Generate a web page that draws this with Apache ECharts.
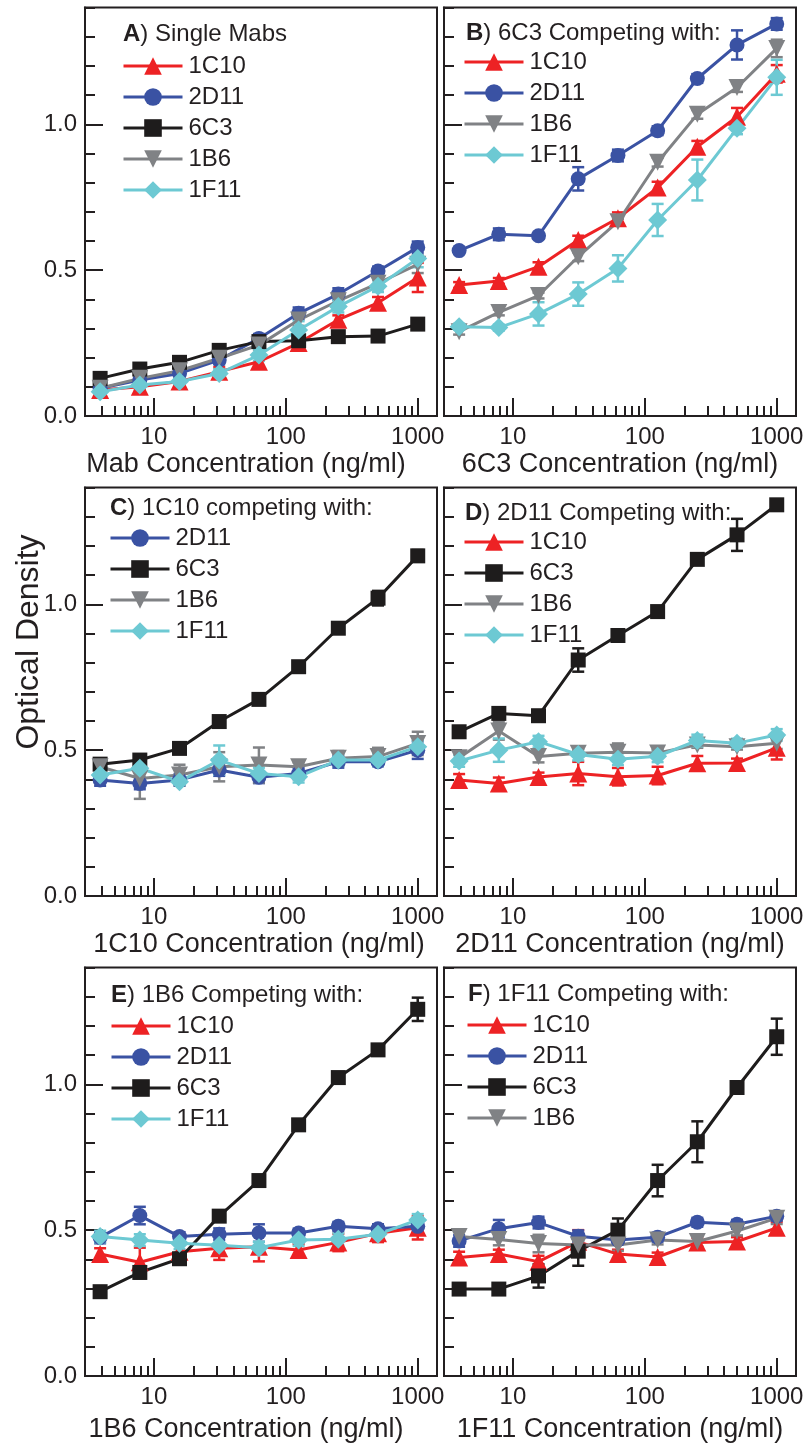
<!DOCTYPE html>
<html>
<head>
<meta charset="utf-8">
<script src="https://cdn.jsdelivr.net/npm/echarts@6.0.0/dist/echarts.min.js"></script>
<style>
  html, body { margin: 0; padding: 0; background: #ffffff; }
  #chart { width: 807px; height: 1446px; }
</style>
</head>
<body>
<div id="chart"></div>
<script>
// ---------------- DATA ----------------
const conc = [3.90625, 7.8125, 15.625, 31.25, 62.5, 125, 250, 500, 1000];
const xMajorTicks = [10, 100, 1000];
const xMinorTicks = [4, 5, 6, 7, 8, 9, 20, 30, 40, 50, 60, 70, 80, 90, 200, 300, 400, 500, 600, 700, 800, 900];
const yLabelValues = [0, 0.5, 1.0];
const yMajorTicks = [0.5, 1.0];

const panelTitles = ['A) Single Mabs', 'B) 6C3 Competing with:', 'C) 1C10 competing with:',
                     'D) 2D11 Competing with:', 'E) 1B6 Competing with:', 'F) 1F11 Competing with:'];
const xAxisNames = ['Mab Concentration (ng/ml)', '6C3 Concentration (ng/ml)', '1C10 Concentration (ng/ml)',
                    '2D11 Concentration (ng/ml)', '1B6 Concentration (ng/ml)', '1F11 Concentration (ng/ml)'];
const yAxisName = 'Optical Density';

// Panel A: single Mabs
const A_1C10 = [0.089, 0.100, 0.118, 0.152, 0.186, 0.250, 0.330, 0.388, 0.475];
const A_2D11 = [0.095, 0.123, 0.146, 0.192, 0.266, 0.352, 0.418, 0.497, 0.578];
const A_6C3  = [0.129, 0.161, 0.184, 0.225, 0.255, 0.258, 0.272, 0.274, 0.315];
const A_1B6  = [0.095, 0.129, 0.155, 0.198, 0.243, 0.329, 0.395, 0.455, 0.520];
const A_1F11 = [0.083, 0.106, 0.118, 0.146, 0.209, 0.295, 0.375, 0.445, 0.540];
const A_1C10_err = [0.010, 0.010, 0.010, 0.015, 0.015, 0.020, 0.015, 0.020, 0.050];
const A_2D11_err = [0.010, 0.010, 0.010, 0.015, 0.015, 0.020, 0.020, 0.015, 0.020];
const A_6C3_err  = [0.005, 0.005, 0.005, 0.005, 0.005, 0.005, 0.005, 0.005, 0.005];
const A_1B6_err  = [0.010, 0.010, 0.010, 0.015, 0.015, 0.020, 0.015, 0.020, 0.030];
const A_1F11_err = [0.010, 0.010, 0.010, 0.015, 0.020, 0.030, 0.020, 0.020, 0.030];

// Panel B: 6C3 competing with
const B_1C10 = [0.449, 0.463, 0.512, 0.603, 0.678, 0.783, 0.923, 1.026, 1.173];
const B_2D11 = [0.567, 0.623, 0.618, 0.813, 0.893, 0.978, 1.157, 1.272, 1.344];
const B_1B6  = [0.289, 0.355, 0.413, 0.546, 0.666, 0.870, 1.034, 1.126, 1.260];
const B_1F11 = [0.306, 0.303, 0.350, 0.418, 0.506, 0.672, 0.809, 0.986, 1.161];
const B_1C10_err = [0.010, 0.010, 0.015, 0.015, 0.020, 0.020, 0.020, 0.030, 0.030];
const B_2D11_err = [0.010, 0.020, 0.010, 0.040, 0.020, 0.015, 0.015, 0.050, 0.020];
const B_1B6_err  = [0.010, 0.010, 0.010, 0.015, 0.010, 0.015, 0.015, 0.015, 0.030];
const B_1F11_err = [0.010, 0.010, 0.040, 0.040, 0.045, 0.055, 0.070, 0.020, 0.060];

// Panel C: 1C10 competing with
const C_2D11 = [0.398, 0.386, 0.398, 0.432, 0.407, 0.420, 0.460, 0.460, 0.500];
const C_6C3  = [0.452, 0.466, 0.506, 0.598, 0.674, 0.786, 0.918, 1.021, 1.166];
const C_1B6  = [0.443, 0.403, 0.415, 0.443, 0.449, 0.443, 0.472, 0.478, 0.523];
const C_1F11 = [0.415, 0.438, 0.392, 0.466, 0.420, 0.409, 0.466, 0.466, 0.512];
const C_2D11_err = [0.020, 0.020, 0.020, 0.020, 0.020, 0.020, 0.020, 0.015, 0.030];
const C_6C3_err  = [0.010, 0.010, 0.010, 0.010, 0.010, 0.010, 0.010, 0.025, 0.020];
const C_1B6_err  = [0.020, 0.070, 0.035, 0.050, 0.060, 0.015, 0.025, 0.030, 0.040];
const C_1F11_err = [0.020, 0.020, 0.010, 0.050, 0.020, 0.020, 0.020, 0.020, 0.020];

// Panel D: 2D11 competing with
const D_1C10 = [0.398, 0.386, 0.408, 0.420, 0.409, 0.413, 0.455, 0.456, 0.508];
const D_6C3  = [0.563, 0.626, 0.618, 0.809, 0.893, 0.975, 1.154, 1.238, 1.341];
const D_1B6  = [0.474, 0.566, 0.478, 0.489, 0.493, 0.490, 0.518, 0.512, 0.524];
const D_1F11 = [0.463, 0.500, 0.529, 0.485, 0.469, 0.479, 0.533, 0.524, 0.552];
const D_1C10_err = [0.020, 0.020, 0.015, 0.040, 0.030, 0.030, 0.025, 0.015, 0.040];
const D_6C3_err  = [0.010, 0.020, 0.010, 0.040, 0.010, 0.010, 0.010, 0.055, 0.010];
const D_1B6_err  = [0.020, 0.030, 0.020, 0.010, 0.030, 0.010, 0.010, 0.010, 0.020];
const D_1F11_err = [0.020, 0.040, 0.020, 0.020, 0.020, 0.020, 0.020, 0.015, 0.020];

// Panel E: 1B6 competing with
const E_1C10 = [0.418, 0.390, 0.426, 0.438, 0.443, 0.432, 0.458, 0.489, 0.508];
const E_2D11 = [0.475, 0.550, 0.478, 0.486, 0.490, 0.490, 0.513, 0.505, 0.513];
const E_6C3  = [0.289, 0.355, 0.402, 0.548, 0.670, 0.861, 1.023, 1.118, 1.257];
const E_1F11 = [0.478, 0.466, 0.455, 0.448, 0.440, 0.466, 0.469, 0.486, 0.535];
const E_1C10_err = [0.020, 0.050, 0.030, 0.040, 0.050, 0.020, 0.030, 0.030, 0.040];
const E_2D11_err = [0.020, 0.030, 0.015, 0.020, 0.030, 0.015, 0.015, 0.015, 0.020];
const E_6C3_err  = [0.010, 0.020, 0.015, 0.010, 0.010, 0.010, 0.010, 0.010, 0.040];
const E_1F11_err = [0.020, 0.020, 0.020, 0.030, 0.020, 0.020, 0.020, 0.020, 0.020];

// Panel F: 1F11 competing with
const F_1C10 = [0.406, 0.418, 0.392, 0.460, 0.418, 0.408, 0.458, 0.461, 0.508];
const F_2D11 = [0.463, 0.505, 0.526, 0.479, 0.466, 0.476, 0.527, 0.520, 0.548];
const F_6C3  = [0.298, 0.298, 0.343, 0.428, 0.500, 0.670, 0.803, 0.989, 1.163];
const F_1B6  = [0.478, 0.468, 0.454, 0.449, 0.449, 0.466, 0.461, 0.497, 0.541];
const F_1C10_err = [0.020, 0.015, 0.020, 0.040, 0.015, 0.015, 0.015, 0.015, 0.020];
const F_2D11_err = [0.020, 0.030, 0.020, 0.020, 0.015, 0.015, 0.015, 0.015, 0.015];
const F_6C3_err  = [0.010, 0.010, 0.040, 0.050, 0.040, 0.054, 0.070, 0.010, 0.062];
const F_1B6_err  = [0.020, 0.020, 0.030, 0.030, 0.020, 0.015, 0.020, 0.015, 0.020];

// ---------------- STYLE ----------------
const FONT = '"Liberation Sans", Arial, Helvetica, sans-serif';
const INK = '#231f20';
const seriesStyle = {
  '1C10': { color: '#ed2224', symbol: 'triangle', size: 18 },
  '2D11': { color: '#3a52a3', symbol: 'circle', size: 15 },
  '6C3':  { color: '#1e1c1c', symbol: 'rect', size: 15 },
  '1B6':  { color: '#808285', symbol: 'path://M0,0L10,0L5,9Z', size: 17 },
  '1F11': { color: '#6dc9d3', symbol: 'diamond', size: 19 }
};

const panels = [
  { series: { '1C10': [A_1C10, A_1C10_err], '2D11': [A_2D11, A_2D11_err], '6C3': [A_6C3, A_6C3_err], '1B6': [A_1B6, A_1B6_err], '1F11': [A_1F11, A_1F11_err] } },
  { series: { '1C10': [B_1C10, B_1C10_err], '2D11': [B_2D11, B_2D11_err], '1B6': [B_1B6, B_1B6_err], '1F11': [B_1F11, B_1F11_err] } },
  { series: { '2D11': [C_2D11, C_2D11_err], '6C3': [C_6C3, C_6C3_err], '1B6': [C_1B6, C_1B6_err], '1F11': [C_1F11, C_1F11_err] } },
  { series: { '1C10': [D_1C10, D_1C10_err], '6C3': [D_6C3, D_6C3_err], '1B6': [D_1B6, D_1B6_err], '1F11': [D_1F11, D_1F11_err] } },
  { series: { '1C10': [E_1C10, E_1C10_err], '2D11': [E_2D11, E_2D11_err], '6C3': [E_6C3, E_6C3_err], '1F11': [E_1F11, E_1F11_err] } },
  { series: { '1C10': [F_1C10, F_1C10_err], '2D11': [F_2D11, F_2D11_err], '6C3': [F_6C3, F_6C3_err], '1B6': [F_1B6, F_1B6_err] } }
];

// layout (pixels)
const gridLayout = [
  { left: 85,  top: 7.6,   width: 352, height: 408.4 },
  { left: 444, top: 7.6,   width: 352, height: 408.4 },
  { left: 85,  top: 487.6, width: 352, height: 408.4 },
  { left: 444, top: 487.6, width: 352, height: 408.4 },
  { left: 85,  top: 967.6, width: 352, height: 408.4 },
  { left: 444, top: 967.6, width: 352, height: 408.4 }
];
const showYLabels = [true, false, true, false, true, false];
const titlePos  = [[123, 34], [466, 33], [110, 508], [465, 513], [111, 995], [468, 994]];
const legendPos = [[122, 66], [463, 62], [109, 538], [463, 542], [110, 1026], [466, 1025]];
const namePad   = [30, 0, 4, 0, 30, 0];
const nameGap   = [35, 35, 35, 35, 40, 40];

const option = {
  backgroundColor: '#ffffff',
  animation: false,
  textStyle: { fontFamily: FONT },
  title: [], legend: [], grid: [], xAxis: [], yAxis: [], series: [],
  graphic: [{
    type: 'text', x: 29, y: 642, rotation: Math.PI / 2,
    style: { text: yAxisName, x: 0, y: 0, align: 'center', verticalAlign: 'middle',
             font: '32px ' + FONT, fill: INK }
  }]
};

panels.forEach((p, i) => {
  const g = gridLayout[i];
  option.grid.push({ left: g.left, top: g.top, width: g.width, height: g.height,
    show: true, borderColor: INK, borderWidth: 2, backgroundColor: 'transparent', containLabel: false });

  const t = panelTitles[i];
  option.title.push({
    text: '{b|' + t.charAt(0) + '}' + t.slice(1),
    left: titlePos[i][0], top: titlePos[i][1] - 14, padding: 0,
    textStyle: { fontSize: 24, fontWeight: 'normal', color: INK, fontFamily: FONT, lineHeight: 28,
      rich: { b: { fontSize: 24, fontWeight: 'bold', color: INK, fontFamily: FONT, lineHeight: 28 } } }
  });

  const names = Object.keys(p.series);
  option.legend.push({
    data: names, orient: 'vertical', left: legendPos[i][0], top: legendPos[i][1] - 12,
    padding: 0, itemGap: 7, itemWidth: 59, itemHeight: 22, selectedMode: false,
    lineStyle: { width: 3 },
    textStyle: { fontSize: 24, color: INK, fontFamily: FONT, lineHeight: 24, padding: [0, 0, 0, 1] }
  });

  const xi = option.xAxis.length;
  option.xAxis.push({
    type: 'log', logBase: 10, gridIndex: i, min: 3, max: 1400, position: 'bottom',
    name: xAxisNames[i], nameLocation: 'middle', nameGap: nameGap[i],
    nameTextStyle: { fontSize: 27, color: INK, fontFamily: FONT, lineHeight: 27, padding: [0, namePad[i], 0, 0] },
    axisLine: { show: true, lineStyle: { color: INK, width: 2 } },
    axisTick: { show: true, inside: true, length: 18, customValues: xMajorTicks, lineStyle: { color: INK, width: 2 } },
    axisLabel: { show: true, customValues: xMajorTicks, margin: 9, fontSize: 24, color: INK, fontFamily: FONT,
                 formatter: v => String(Math.round(v)) },
    splitLine: { show: false }
  });
  option.xAxis.push({
    type: 'log', logBase: 10, gridIndex: i, min: 3, max: 1400, position: 'bottom',
    axisLine: { show: false },
    axisTick: { show: true, inside: true, length: 10, customValues: xMinorTicks, lineStyle: { color: INK, width: 2 } },
    axisLabel: { show: false }, splitLine: { show: false }
  });

  const yi = option.yAxis.length;
  option.yAxis.push({
    type: 'value', gridIndex: i, min: 0, max: 1.4, interval: 0.1, position: 'left',
    axisLine: { show: true, lineStyle: { color: INK, width: 2 } },
    axisTick: { show: true, inside: true, length: 10, lineStyle: { color: INK, width: 2 } },
    axisLabel: { show: showYLabels[i], customValues: yLabelValues, margin: 8, fontSize: 24, color: INK, fontFamily: FONT,
                 formatter: v => Number(v).toFixed(1) },
    splitLine: { show: false }
  });
  option.yAxis.push({
    type: 'value', gridIndex: i, min: 0, max: 1.4, position: 'left',
    axisLine: { show: false },
    axisTick: { show: true, inside: true, length: 18, customValues: yMajorTicks, lineStyle: { color: INK, width: 2 } },
    axisLabel: { show: false }, splitLine: { show: false }
  });

  names.forEach(name => {
    const st = seriesStyle[name];
    const vals = p.series[name][0];
    const errs = p.series[name][1];
    option.series.push({
      type: 'custom', name: name + ' error', xAxisIndex: xi, yAxisIndex: yi, z: 2, silent: true, clip: false,
      data: conc.map((c, k) => [c, vals[k] - errs[k], vals[k] + errs[k]]),
      renderItem: (params, api) => {
        const x = api.value(0);
        const lo = api.coord([x, api.value(1)]);
        const hi = api.coord([x, api.value(2)]);
        const hw = 6;
        const ls = { stroke: st.color, lineWidth: 2.5 };
        return { type: 'group', children: [
          { type: 'line', shape: { x1: lo[0], y1: lo[1], x2: hi[0], y2: hi[1] }, style: ls },
          { type: 'line', shape: { x1: lo[0] - hw, y1: lo[1], x2: lo[0] + hw, y2: lo[1] }, style: ls },
          { type: 'line', shape: { x1: hi[0] - hw, y1: hi[1], x2: hi[0] + hw, y2: hi[1] }, style: ls }
        ] };
      }
    });
    option.series.push({
      type: 'line', name: name, xAxisIndex: xi, yAxisIndex: yi, z: 3,
      data: conc.map((c, k) => [c, vals[k]]),
      symbol: st.symbol, symbolSize: st.size, showSymbol: true, showAllSymbol: true,
      lineStyle: { color: st.color, width: 3 },
      itemStyle: { color: st.color, borderWidth: 0 },
      emphasis: { disabled: true }, clip: false
    });
  });
});

const chart = echarts.init(document.getElementById('chart'), null, { renderer: 'canvas', width: 807, height: 1446 });
chart.setOption(option);
</script>
</body>
</html>
